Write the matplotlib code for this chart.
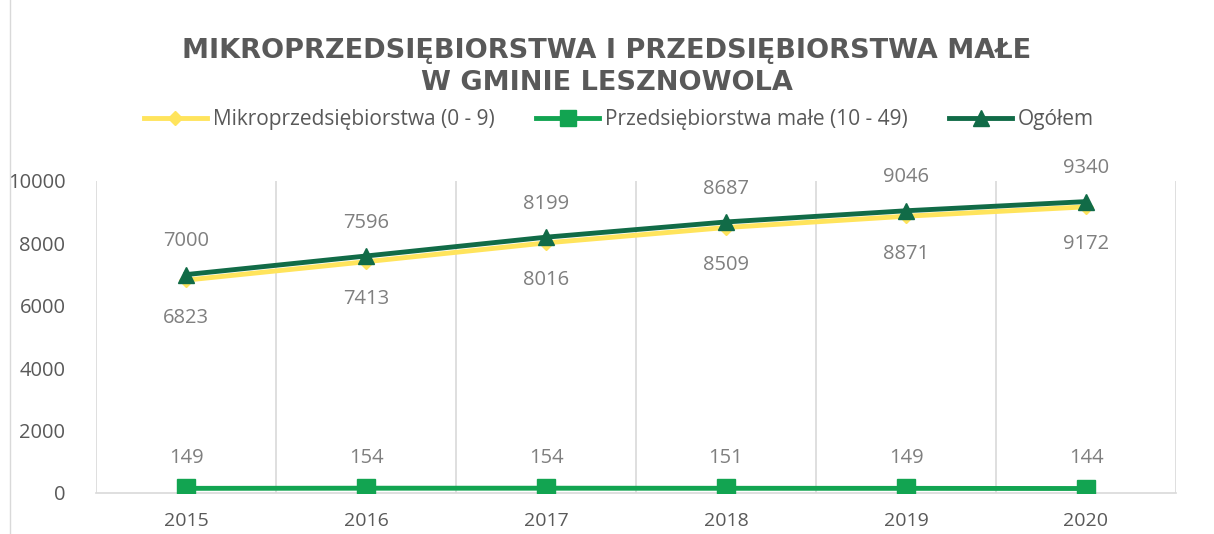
import matplotlib.pyplot as plt
from matplotlib.lines import Line2D

plt.rcParams['font.family'] = ['Open Sans', 'DejaVu Sans']

# dane
lata = ["2015", "2016", "2017", "2018", "2019", "2020"]
mikro = [6823, 7413, 8016, 8509, 8871, 9172]
male = [149, 154, 154, 151, 149, 144]
ogolem = [7000, 7596, 8199, 8687, 9046, 9340]

c_mikro = "#FFE45C"
c_male = "#12A451"
c_ogolem = "#116B47"
c_txt = "#595959"
c_lab = "#7F7F7F"

fig = plt.figure(figsize=(12.14, 5.34), dpi=100)
ax = fig.add_axes([96 / 1214, 1 - 493 / 534, 1080 / 1214, 312 / 534])

x = range(len(lata))
ax.plot(x, mikro, color=c_mikro, linewidth=3.5, marker='D', markersize=7, zorder=3)
ax.plot(x, male, color=c_male, linewidth=3.5, marker='s', markersize=13, zorder=3)
ax.plot(x, ogolem, color=c_ogolem, linewidth=3.5, marker='^', markersize=12, zorder=4)

# etykiety danych
for i in x:
    ax.annotate(str(mikro[i]), (i, mikro[i]), xytext=(0, -27), textcoords='offset points',
                ha='center', va='center', fontsize=14.5, color=c_lab)
    ax.annotate(str(ogolem[i]), (i, ogolem[i]), xytext=(0, 24), textcoords='offset points',
                ha='center', va='center', fontsize=14.5, color=c_lab)
    ax.annotate(str(male[i]), (i, male[i]), xytext=(0, 22), textcoords='offset points',
                ha='center', va='center', fontsize=14.5, color=c_lab)

ax.set_xlim(-0.5, 5.5)
ax.set_ylim(0, 10000)
ax.set_yticks([0, 2000, 4000, 6000, 8000, 10000])
ax.set_xticks(list(x))
ax.set_xticklabels(lata)
ax.set_xticks([i - 0.5 for i in range(len(lata) + 1)], minor=True)
ax.grid(axis='x', which='minor', color="#D9D9D9", linewidth=1.2)
ax.tick_params(axis='both', which='both', length=0)
ax.tick_params(axis='y', labelsize=14.5, labelcolor=c_txt, pad=22)
ax.tick_params(axis='x', labelsize=14, labelcolor=c_txt, pad=14)
for s in ['top', 'right', 'left']:
    ax.spines[s].set_visible(False)
ax.spines['bottom'].set_color("#D9D9D9")
ax.spines['bottom'].set_linewidth(1.2)

fig.text(0.5, 1 - 51 / 534, "MIKROPRZEDSIĘBIORSTWA I PRZEDSIĘBIORSTWA MAŁE",
         ha='center', va='center', fontsize=19.5, fontweight='bold', color=c_txt,
         family='DejaVu Sans')
fig.text(0.5, 1 - 83 / 534, "W GMINIE LESZNOWOLA",
         ha='center', va='center', fontsize=19.5, fontweight='bold', color=c_txt,
         family='DejaVu Sans')

uchwyty = [
    Line2D([], [], color=c_mikro, linewidth=3.5, marker='D', markersize=7),
    Line2D([], [], color=c_male, linewidth=3.5, marker='s', markersize=11),
    Line2D([], [], color=c_ogolem, linewidth=3.5, marker='^', markersize=11),
]
fig.legend(uchwyty, ["Mikroprzedsiębiorstwa (0 - 9)", "Przedsiębiorstwa małe (10 - 49)", "Ogółem"],
           loc='center', bbox_to_anchor=(0.51, 1 - 120 / 534), ncol=3, frameon=False,
           fontsize=15, labelcolor=c_txt, handlelength=3, columnspacing=2.0, handletextpad=0.3)

# ramka obszaru wykresu po lewej
fig.add_artist(Line2D([10 / 1214, 10 / 1214], [0, 1], color="#D9D9D9", linewidth=1,
                      transform=fig.transFigure))

fig.savefig("out.png", dpi=100)
